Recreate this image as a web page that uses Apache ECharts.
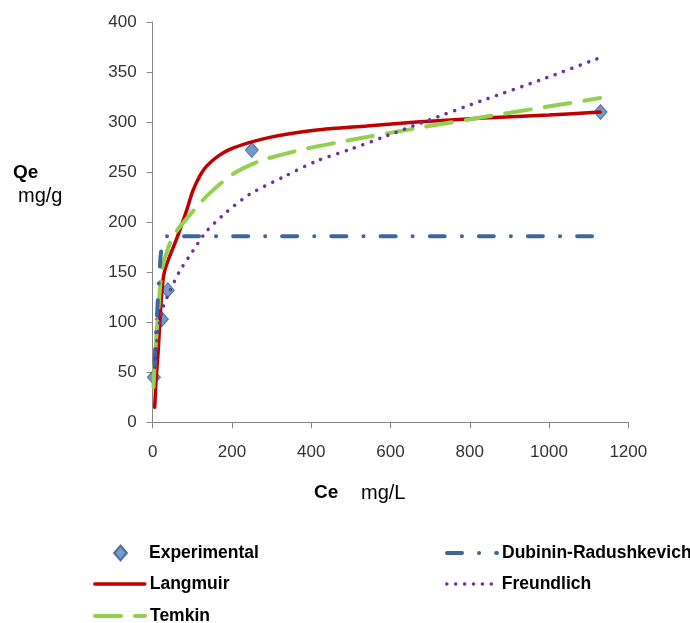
<!DOCTYPE html>
<html>
<head>
<meta charset="utf-8">
<script src="https://cdn.jsdelivr.net/npm/echarts@6/dist/echarts.min.js"></script>
<style>html,body{margin:0;padding:0;background:#fff}#c{width:690px;height:623px}</style>
</head>
<body>
<div id="c"></div>
<script>
const xTicks = [0, 200, 400, 600, 800, 1000, 1200];
const yTicks = [0, 50, 100, 150, 200, 250, 300, 350, 400];
const experimental = [[3,45],[23,103],[38,132],[250,272],[1130,310]];
const langmuir = [[5,15],[9,45],[13.5,69],[18,100],[22,125],[26,142],[30,151],[40,163],[51,174],[62,185],[72,196],[85,211],[101,231],[120,247],[136,256],[165,266],[202,274],[287,284],[414,292],[540,296],[666,300],[835,304],[1000,307],[1129,310]];
const freundlich = [[5,55],[9,75],[15,95],[26,115],[43,131],[68,151],[101,171],[136,191],[186,210],[245,228],[329,245],[413,261],[500,273],[582,285],[683,300],[835,322],[978,342],[1126,364]];
const temkin = [[2,35],[5,60],[10,90],[15,115],[22,150],[30,163],[50,185],[76,199],[115,217],[144,229],[202,248],[270,261],[371,272],[498,282],[667,294],[835,305],[1129,324]];
const dubinin = [[5,58],[7,80],[10,100],[14,130],[18,155],[21,170],[27,182],[35,186],[1120,186]];
const seriesNames = ['Experimental','Langmuir','Temkin','Dubinin-Radushkevich','Freundlich'];

const FONT = 'Liberation Sans';
const chart = echarts.init(document.getElementById('c'), null, {renderer:'canvas'});
const legText = {fontFamily: FONT, fontSize: 17.5, fontWeight: 'bold', color: '#000', lineHeight: 20};
function leg(name, left, centerY, lw) {
  const o = {data:[name], left: left, top: centerY - 10, padding: 0, itemWidth: 50, itemHeight: 14,
    textStyle: legText, selectedMode: false,
    itemStyle: {color:'rgba(0,0,0,0)', borderColor:'rgba(0,0,0,0)', borderWidth:0, opacity:0}};
  if (lw) o.lineStyle = {width: lw};
  return o;
}
const lineCommon = {type:'line', symbol:'none', showSymbol:false, smooth:0.25, silent:true, animation:false};
chart.setOption({
  animation: false,
  backgroundColor: '#fff',
  grid: {left: 152.7, right: 61.7, top: 22, bottom: 200.7, containLabel: false},
  xAxis: {type:'value', min: xTicks[0], max: xTicks[xTicks.length-1], interval: 200,
    axisLine:{show:true, onZero:false, lineStyle:{color:'#868686', width:1}},
    axisTick:{show:true, inside:false, length:6, lineStyle:{color:'#868686'}},
    splitLine:{show:false},
    axisLabel:{fontFamily:FONT, fontSize:17, color:'#333', margin:22, formatter: v => String(v)}},
  yAxis: {type:'value', min: yTicks[0], max: yTicks[yTicks.length-1], interval: 50,
    axisLine:{show:true, onZero:false, lineStyle:{color:'#868686', width:1}},
    axisTick:{show:true, inside:false, length:6, lineStyle:{color:'#868686'}},
    splitLine:{show:false},
    axisLabel:{fontFamily:FONT, fontSize:17, color:'#333', margin:16, formatter: v => String(v)}},
  legend: [
    {data:[seriesNames[0]], left: 113, top: 543, padding: 0, itemWidth: 13, itemHeight: 15,
      textStyle: Object.assign({}, legText, {padding:[0,0,0,17]}), selectedMode:false},
    leg(seriesNames[1], 93, 584, 3.5),
    leg(seriesNames[2], 93, 616, 4),
    leg(seriesNames[3], 445, 553, 4),
    leg(seriesNames[4], 445, 584, 3.5)
  ],
  graphic: [
    {type:'text', left: 13, top: 174 - 11, style:{text:'Qe', font:'bold 19px "Liberation Sans"', fill:'#000'}},
    {type:'text', left: 18, top: 197 - 11, style:{text:'mg/g', font:'20px "Liberation Sans"', fill:'#000'}},
    {type:'text', left: 314, top: 494 - 11, style:{text:'Ce', font:'bold 19px "Liberation Sans"', fill:'#000'}},
    {type:'text', left: 361, top: 494 - 11, style:{text:'mg/L', font:'20px "Liberation Sans"', fill:'#000'}}
  ],
  series: [
    {name: seriesNames[0], type:'scatter', data: experimental, symbol:'diamond', symbolSize:[13,15], z:2,
      itemStyle:{color:'#4F81BD', borderColor:'#385D8A', borderWidth:1}},
    Object.assign({}, lineCommon, {name: seriesNames[1], data: langmuir, z:3,
      lineStyle:{color:'#C00000', width:3.5, cap:'round'}, itemStyle:{color:'#C00000'}}),
    Object.assign({}, lineCommon, {name: seriesNames[2], data: temkin, z:4,
      lineStyle:{color:'#92D050', width:4, type:[26,14], cap:'round'}, itemStyle:{color:'#92D050'}}),
    Object.assign({}, lineCommon, {name: seriesNames[3], data: dubinin, z:5, smooth:0.2,
      lineStyle:{color:'#3C679E', width:4, type:[15,17,0.1,17], cap:'round'}, itemStyle:{color:'#3C679E'}}),
    Object.assign({}, lineCommon, {name: seriesNames[4], data: freundlich, z:6,
      lineStyle:{color:'#7030A0', width:3.5, type:[0.1,8.8], cap:'round'}, itemStyle:{color:'#7030A0'}})
  ]
});
</script>
</body>
</html>
